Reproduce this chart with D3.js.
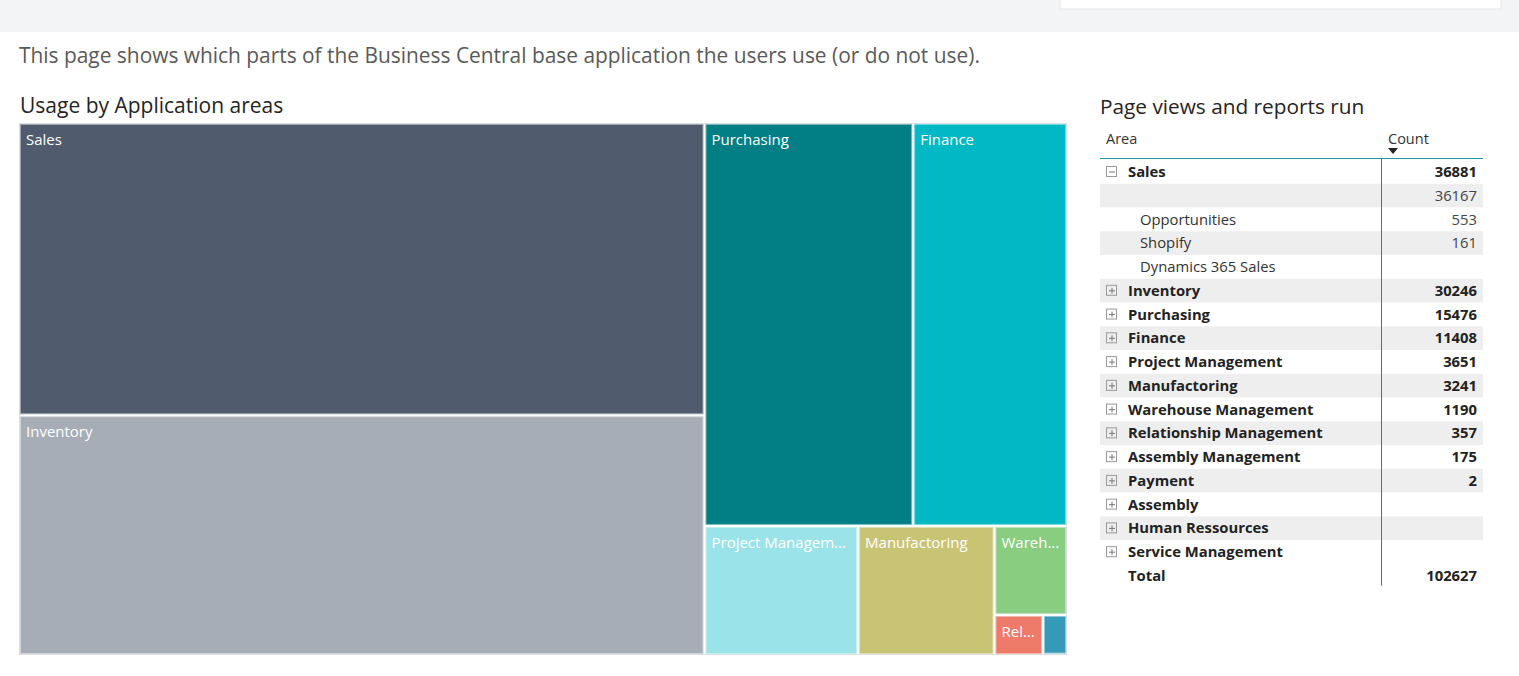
<!DOCTYPE html>
<html>
<head>
<meta charset="utf-8">
<script src="https://cdn.jsdelivr.net/npm/d3@7"></script>
<style>
  body { margin: 0; background: #fff; }
  text { font-family: "Open Sans", "Noto Sans", sans-serif; }
</style>
</head>
<body>
<svg id="chart" width="1519" height="676"></svg>
<script>
// application areas, in table order
var areas = ["Sales", "Inventory", "Purchasing", "Finance", "Project Management", "Manufactoring",
  "Warehouse Management", "Relationship Management", "Assembly Management", "Payment",
  "Assembly", "Human Ressources", "Service Management"];
var counts = [36881, 30246, 15476, 11408, 3651, 3241, 1190, 357, 175, 2, null, null, null];
var areaColors = ["#505b6e", "#a7adb6", "#017f85", "#01b8c4", "#9ae3e8", "#c9c474",
  "#88cd80", "#ee7a6a", "#3599b8", "#6c5fa6", "#999", "#999", "#999"];

// Sales is expanded in the table
var salesChildren = ["", "Opportunities", "Shopify", "Dynamics 365 Sales"];
var salesChildCounts = [36167, 553, 161, null];
var total = 102627;

var svg = d3.select("#chart");

/*******************
 * HEADER
 *******************/
svg.append("rect").attr("x", 0).attr("y", 0).attr("width", 1519).attr("height", 32).attr("fill", "#f3f4f6");
svg.append("rect").attr("x", 1060).attr("y", -1).attr("width", 441).attr("height", 10)
  .attr("fill", "#fff").attr("stroke", "#e6e6e6");

svg.append("text").attr("x", 19).attr("y", 63)
  .attr("font-size", 20.9).attr("fill", "#5a5a5a")
  .text("This page shows which parts of the Business Central base application the users use (or do not use).");

svg.append("text").attr("x", 20).attr("y", 113)
  .attr("font-size", 21).attr("fill", "#252423")
  .text("Usage by Application areas");

svg.append("text").attr("x", 1100).attr("y", 114)
  .attr("font-size", 20.8).attr("fill", "#252423")
  .text("Page views and reports run");

/*******************
 * TREEMAP
 *******************/
var tmW = 1046, tmH = 530;
var tmData = {
  name: "root",
  children: areas.map(function (a, i) {
    return {name: a, value: counts[i] || 0, color: areaColors[i]};
  }).filter(function (d) { return d.value > 0; })
};

var root = d3.hierarchy(tmData)
  .sum(function (d) { return d.value || 0; })
  .sort(function (a, b) { return b.value - a.value; });

d3.treemap()
  .tile(d3.treemapSquarify)
  .size([tmW, tmH])
  .paddingInner(2)(root);

var tm = svg.append("g").attr("transform", "translate(20,124)");

tm.append("rect").attr("x", -0.5).attr("y", -0.5).attr("width", tmW + 1).attr("height", tmH + 1)
  .attr("fill", "none").attr("stroke", "#dcdee2");

var cell = tm.selectAll("g.cell")
  .data(root.leaves())
  .enter().append("g")
  .attr("class", "cell")
  .attr("transform", function (d) { return "translate(" + d.x0 + "," + d.y0 + ")"; });

cell.append("rect")
  .attr("x", 0.5).attr("y", 0.5)
  .attr("width", function (d) { return Math.max(0, d.x1 - d.x0 - 1); })
  .attr("height", function (d) { return Math.max(0, d.y1 - d.y0 - 1); })
  .attr("fill", function (d) { return d.data.color; })
  .attr("stroke", function (d) { return d3.interpolateRgb(d.data.color, "#fff")(0.45); })
  .attr("stroke-width", 1);

cell.append("text")
  .attr("x", 6).attr("y", 21)
  .attr("font-size", 15).attr("fill", "#fff")
  .each(function (d) {
    var w = d.x1 - d.x0 - 10;
    var t = d3.select(this);
    if (w < 28) return;
    var name = d.data.name;
    t.text(name);
    if (this.getComputedTextLength() <= w) return;
    for (var n = name.length - 1; n > 0; n--) {
      t.text(name.slice(0, n) + "...");
      if (this.getComputedTextLength() <= w) return;
    }
  });

/*******************
 * TABLE
 *******************/
var rows = [];
areas.forEach(function (a, i) {
  rows.push({label: a, value: counts[i], level: 0, expanded: i === 0});
  if (i === 0) {
    salesChildren.forEach(function (c, j) {
      rows.push({label: c, value: salesChildCounts[j], level: 1});
    });
  }
});
rows.push({label: "Total", value: total, level: 0, total: true});

var tX0 = 1100, tX1 = 1483, colX = 1381, rowH = 23.76, rowTop = 160;
var y = d3.scaleLinear().domain([0, 1]).range([rowTop, rowTop + rowH]);

var table = svg.append("g");

table.append("text").attr("x", 1106).attr("y", 144).attr("font-size", 14.5).attr("fill", "#333").text("Area");
table.append("text").attr("x", 1388).attr("y", 144).attr("font-size", 14.5).attr("fill", "#333").text("Count");
table.append("path").attr("d", "M1388,148 L1398,148 L1393,154 Z").attr("fill", "#222");

var row = table.selectAll("g.row")
  .data(rows)
  .enter().append("g")
  .attr("class", "row")
  .attr("transform", function (d, i) { return "translate(0," + y(i) + ")"; });

row.append("rect")
  .attr("x", tX0).attr("y", 0)
  .attr("width", tX1 - tX0).attr("height", rowH)
  .attr("fill", function (d, i) { return (i % 2 && !d.total) ? "#eeeeee" : "#fff"; });

row.append("text")
  .attr("x", function (d) { return d.level ? 1140 : 1128; })
  .attr("y", 17)
  .attr("font-size", 14.8)
  .attr("font-weight", function (d) { return d.level ? "normal" : "bold"; })
  .attr("fill", function (d) { return d.level ? "#333" : "#222"; })
  .text(function (d) { return d.label; });

row.append("text")
  .attr("x", 1477).attr("y", 17)
  .attr("text-anchor", "end")
  .attr("font-size", 14.8)
  .attr("font-weight", function (d) { return d.level ? "normal" : "bold"; })
  .attr("fill", function (d) { return d.level ? "#444" : "#222"; })
  .text(function (d) { return d.value == null ? "" : d.value; });

// expand / collapse icons
var icon = row.filter(function (d) { return d.level === 0 && !d.total; })
  .append("g").attr("transform", "translate(1106,6)");
icon.append("rect").attr("x", 0.5).attr("y", 0.5).attr("width", 10).attr("height", 10)
  .attr("fill", "none").attr("stroke", "#9a9a9a");
icon.append("path").attr("d", "M3,6 L9,6").attr("stroke", "#777").attr("stroke-width", 1);
icon.filter(function (d) { return !d.expanded; })
  .append("path").attr("d", "M6,3 L6,9").attr("stroke", "#777").attr("stroke-width", 1);

table.append("line").attr("x1", tX0).attr("x2", tX1).attr("y1", 158.5).attr("y2", 158.5)
  .attr("stroke", "#1a9aa0").attr("stroke-width", 1.2);
table.append("line").attr("x1", colX + 0.5).attr("x2", colX + 0.5)
  .attr("y1", 159).attr("y2", y(rows.length) - 2)
  .attr("stroke", "#1a8a90").attr("stroke-width", 1);
</script>
</body>
</html>
